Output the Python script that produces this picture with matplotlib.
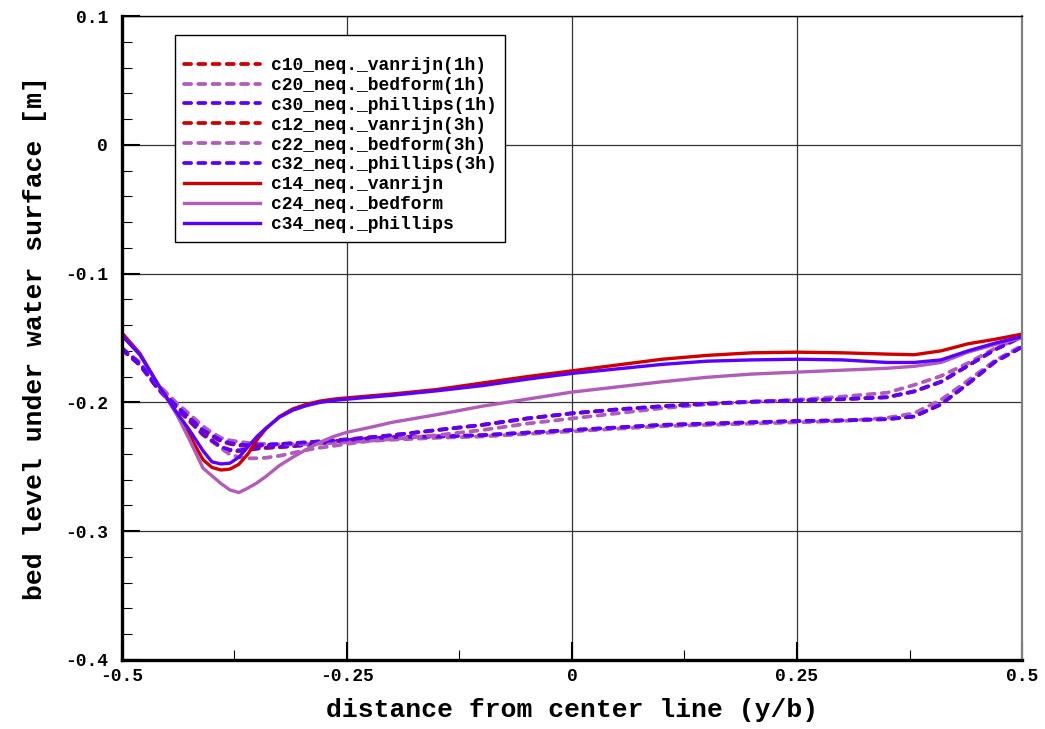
import numpy as np
import matplotlib
matplotlib.use("Agg")
import matplotlib.pyplot as plt
from matplotlib.ticker import MultipleLocator

plt.rcParams["font.family"] = ["Liberation Mono", "DejaVu Sans Mono"]
plt.rcParams["font.weight"] = "bold"
plt.rcParams["axes.labelweight"] = "bold"
plt.rcParams["axes.unicode_minus"] = False

# ------------------------
# Data
# ------------------------
y_over_b = [-0.5, -0.48, -0.46, -0.44, -0.425, -0.41, -0.40, -0.39, -0.38, -0.37,
            -0.36, -0.35, -0.34, -0.325, -0.31, -0.295, -0.28, -0.265, -0.25, -0.225,
            -0.2, -0.15, -0.1, -0.05, 0.0, 0.05, 0.1, 0.15, 0.2, 0.25,
            0.3, 0.35, 0.38, 0.41, 0.44, 0.47, 0.5]

# 1h (lower dashed group)
c10_vanrijn_1h = [-0.159, -0.171, -0.1895, -0.204, -0.2145, -0.2252, -0.2302, -0.2352, -0.2375, -0.2378,
                  -0.2368, -0.2360, -0.2354, -0.2348, -0.2340, -0.2331, -0.2319, -0.2304, -0.2292, -0.2280,
                  -0.2270, -0.2265, -0.2255, -0.2235, -0.2215, -0.2195, -0.2175, -0.2165, -0.2155, -0.2145,
                  -0.214, -0.213, -0.211, -0.2015, -0.1855, -0.1685, -0.157]
c20_bedform_1h = [-0.159, -0.170, -0.187, -0.2015, -0.211, -0.222, -0.2295, -0.2355, -0.2405, -0.2425,
                  -0.2434, -0.2434, -0.2430, -0.2415, -0.2392, -0.2370, -0.2352, -0.2338, -0.2322, -0.2300,
                  -0.2290, -0.2275, -0.2265, -0.2245, -0.2225, -0.2205, -0.2185, -0.2175, -0.2165, -0.2155,
                  -0.2145, -0.212, -0.2085, -0.198, -0.183, -0.1675, -0.156]
c30_phillips_1h = [-0.159, -0.171, -0.1895, -0.204, -0.214, -0.2245, -0.2295, -0.2345, -0.2368, -0.2372,
                   -0.2362, -0.2355, -0.2350, -0.2345, -0.2338, -0.2330, -0.2318, -0.2303, -0.2292, -0.2280,
                   -0.2270, -0.2265, -0.2255, -0.2235, -0.2215, -0.2195, -0.2175, -0.2165, -0.2155, -0.2145,
                   -0.214, -0.213, -0.211, -0.2015, -0.1855, -0.1685, -0.157]

# 3h (upper dashed group)
c12_vanrijn_3h = [-0.158, -0.170, -0.1885, -0.2025, -0.2125, -0.2222, -0.2262, -0.2302, -0.2322, -0.2335,
                  -0.2338, -0.2337, -0.2334, -0.2326, -0.2318, -0.2311, -0.2303, -0.2295, -0.2288, -0.2272,
                  -0.2255, -0.2215, -0.2175, -0.2125, -0.2085, -0.2055, -0.203, -0.201, -0.1995, -0.1985,
                  -0.1975, -0.196, -0.1915, -0.184, -0.1715, -0.159, -0.149]
c22_bedform_3h = [-0.158, -0.169, -0.186, -0.200, -0.209, -0.2185, -0.2235, -0.2275, -0.2295, -0.2305,
                  -0.2315, -0.232, -0.2322, -0.2325, -0.2325, -0.2322, -0.232, -0.2315, -0.231, -0.2298,
                  -0.2285, -0.2255, -0.2215, -0.2165, -0.2125, -0.2085, -0.2045, -0.2015, -0.1995, -0.198,
                  -0.1955, -0.1925, -0.1865, -0.1795, -0.1695, -0.158, -0.149]
c32_phillips_3h = [-0.158, -0.170, -0.1885, -0.2025, -0.212, -0.2215, -0.2255, -0.2295, -0.2315, -0.2328,
                   -0.2332, -0.2332, -0.2330, -0.2323, -0.2316, -0.2310, -0.2303, -0.2295, -0.2288, -0.2272,
                   -0.2255, -0.2215, -0.2175, -0.2125, -0.2085, -0.2055, -0.203, -0.201, -0.1995, -0.1985,
                   -0.1975, -0.196, -0.1915, -0.184, -0.1715, -0.159, -0.149]

# final (solid)
c14_vanrijn = [-0.146, -0.162, -0.186, -0.208, -0.2255, -0.2445, -0.2505, -0.2525, -0.2518, -0.248,
               -0.2400, -0.229, -0.2205, -0.2110, -0.2050, -0.2015, -0.1990, -0.1975, -0.1965, -0.195,
               -0.1935, -0.190, -0.185, -0.180, -0.1755, -0.171, -0.1665, -0.1635, -0.1615, -0.161,
               -0.1615, -0.1625, -0.163, -0.160, -0.1545, -0.151, -0.147]
c24_bedform = [-0.148, -0.163, -0.186, -0.208, -0.229, -0.251, -0.257, -0.263, -0.268, -0.270,
               -0.2665, -0.2625, -0.2575, -0.2490, -0.2425, -0.2365, -0.2310, -0.2265, -0.2232, -0.2195,
               -0.2155, -0.2095, -0.203, -0.1975, -0.192, -0.188, -0.184, -0.1805, -0.178, -0.1765,
               -0.175, -0.1735, -0.172, -0.169, -0.161, -0.155, -0.150]
c34_phillips = [-0.148, -0.163, -0.186, -0.207, -0.2215, -0.2375, -0.2462, -0.2478, -0.2472, -0.2425,
                -0.2345, -0.2265, -0.2200, -0.2115, -0.2060, -0.2025, -0.2000, -0.1985, -0.1975, -0.196,
                -0.1945, -0.191, -0.187, -0.182, -0.1775, -0.174, -0.1705, -0.168, -0.167, -0.1665,
                -0.167, -0.169, -0.169, -0.167, -0.160, -0.154, -0.149]

series_labels = ["c10_neq._vanrijn(1h)", "c20_neq._bedform(1h)", "c30_neq._phillips(1h)",
                 "c12_neq._vanrijn(3h)", "c22_neq._bedform(3h)", "c32_neq._phillips(3h)",
                 "c14_neq._vanrijn", "c24_neq._bedform", "c34_neq._phillips"]
series_values = [c10_vanrijn_1h, c20_bedform_1h, c30_phillips_1h,
                 c12_vanrijn_3h, c22_bedform_3h, c32_phillips_3h,
                 c14_vanrijn, c24_bedform, c34_phillips]

x_ticks = [-0.5, -0.25, 0, 0.25, 0.5]
x_tick_labels = ["-0.5", "-0.25", "0", "0.25", "0.5"]
y_ticks = [0.1, 0, -0.1, -0.2, -0.3, -0.4]
y_tick_labels = ["0.1", "0", "-0.1", "-0.2", "-0.3", "-0.4"]

# ------------------------
# Styles
# ------------------------
RED = "#d00000"
PURPLE = "#b05cb8"
BLUE = "#5a00ff"
colors = [RED, PURPLE, BLUE] * 3
dashed = [True] * 6 + [False] * 3

# ------------------------
# Plot
# ------------------------
fig = plt.figure(figsize=(10.45, 7.29), dpi=100)
ax = fig.add_axes([0.1167, 0.0947, 0.8613, 0.8833])

for vals, lab, col, dsh in zip(series_values, series_labels, colors, dashed):
    if dsh:
        ax.plot(y_over_b, vals, color=col, lw=2.7, label=lab,
                dashes=(1.9, 1.9), dash_capstyle="round")
    else:
        ax.plot(y_over_b, vals, color=col, lw=2.4, label=lab,
                solid_joinstyle="round")

ax.set_xlim(-0.5, 0.5)
ax.set_ylim(-0.4, 0.1)
ax.set_xticks(x_ticks)
ax.set_xticklabels(x_tick_labels, fontsize=13)
ax.set_yticks(y_ticks)
ax.set_yticklabels(y_tick_labels, fontsize=13)
ax.xaxis.set_minor_locator(MultipleLocator(0.125))
ax.yaxis.set_minor_locator(MultipleLocator(0.02))

ax.tick_params(which="major", direction="in", length=13, width=1.5,
               top=False, right=False)
ax.tick_params(which="minor", direction="in", length=7.5, width=0.8,
               top=False, right=False)
ax.tick_params(axis="y", which="major", pad=10)
ax.tick_params(axis="x", which="major", pad=6)

ax.grid(which="major", color="#333333", lw=0.9)
ax.set_axisbelow(True)

ax.spines["left"].set_linewidth(2.4)
ax.spines["bottom"].set_linewidth(2.4)
ax.spines["top"].set_linewidth(1.0)
ax.spines["right"].set_linewidth(1.6)
ax.spines["right"].set_color("#808080")

ax.set_xlabel("distance from center line (y/b)", fontsize=19, labelpad=9)
ax.set_ylabel("bed level under water surface [m]", fontsize=19, labelpad=13)

leg = ax.legend(loc="upper left", bbox_to_anchor=(0.0589, 0.9705), borderaxespad=0,
                prop={"size": 13, "weight": "bold"}, title=" ", title_fontsize=7,
                handlelength=4.2, handletextpad=0.6, labelspacing=0.16, borderpad=0.5,
                fancybox=False, framealpha=1, edgecolor="black")
leg.get_frame().set_linewidth(1.0)

plt.savefig("out.png", dpi=100)
